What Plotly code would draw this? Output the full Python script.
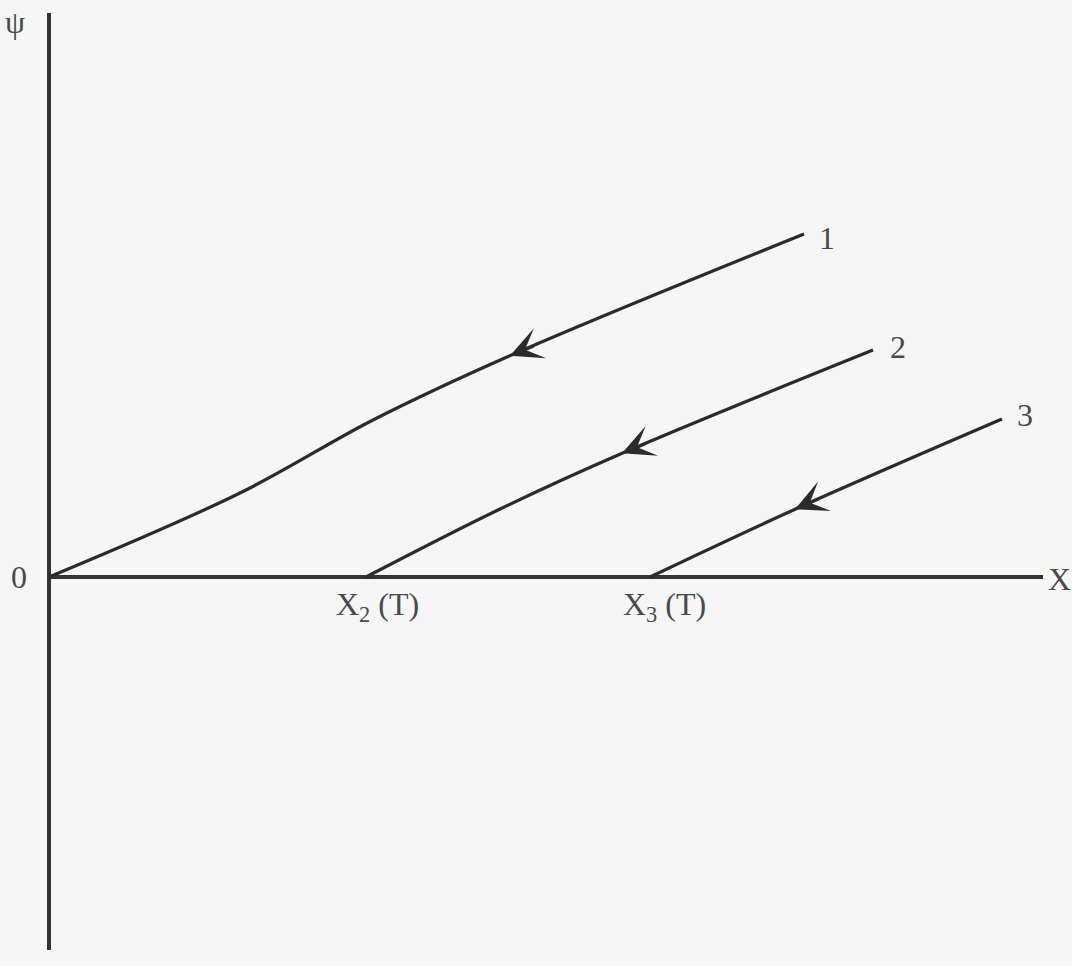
import numpy as np
import plotly.graph_objects as go

# Axis extents (X horizontal, psi vertical)
x_axis_x = [0.0, 9.94]
x_axis_y = [0.0, 0.0]
psi_axis_x = [0.0, 0.0]
psi_axis_y = [5.64, -3.73]

# Trajectories 1, 2, 3 in the (X, psi) plane
curve1_x = [0.00, 1.91, 3.24, 4.58, 7.55]
curve1_y = [0.00, 0.84, 1.57, 2.20, 3.43]
curve2_x = [3.17, 4.51, 5.76, 8.24]
curve2_y = [0.00, 0.68, 1.25, 2.27]
curve3_x = [6.01, 7.51, 9.53]
curve3_y = [0.00, 0.70, 1.58]

curve_names = ["1", "2", "3"]
# X position of the direction arrow tip on each curve
arrow_tip_x = [4.61, 5.73, 7.46]

# Axis-point labels
x2_label = "X<sub>2</sub> (T)"
x3_label = "X<sub>3</sub> (T)"

curves = [(curve1_x, curve1_y), (curve2_x, curve2_y), (curve3_x, curve3_y)]

ink = "#2b2b2b"
text_col = "#4a4a4a"
font_name = "Liberation Serif"
font_size = 32

fig = go.Figure()

# axes
fig.add_trace(go.Scatter(x=x_axis_x, y=x_axis_y, mode="lines",
                         line=dict(color="#333333", width=4), hoverinfo="skip"))
fig.add_trace(go.Scatter(x=psi_axis_x, y=psi_axis_y, mode="lines",
                         line=dict(color="#333333", width=4), hoverinfo="skip"))

for (cx, cy) in curves:
    fig.add_trace(go.Scatter(x=cx, y=cy, mode="lines",
                             line=dict(color=ink, width=3.2, shape="spline", smoothing=1.0),
                             hoverinfo="skip"))

annotations = []

# direction arrows pointing back toward the X axis
for (cx, cy), tx in zip(curves, arrow_tip_x):
    ty = float(np.interp(tx, cx, cy))
    tail_x = tx + 0.25
    tail_y = float(np.interp(tail_x, cx, cy))
    annotations.append(dict(x=tx, y=ty, ax=tail_x, ay=tail_y, xref="x", yref="y",
                            axref="x", ayref="y", showarrow=True, arrowhead=3,
                            arrowsize=1.8, arrowwidth=3, arrowcolor=ink,
                            standoff=0, text=""))

# curve numbers at the upper ends
label_offsets = [(0.23, -0.04), (0.25, 0.03), (0.23, 0.04)]
for name, (cx, cy), (dx, dy) in zip(curve_names, curves, label_offsets):
    annotations.append(dict(x=cx[-1] + dx, y=cy[-1] + dy, text=name, showarrow=False,
                            xref="x", yref="y",
                            font=dict(family=font_name, size=font_size, color=text_col)))

annotations += [
    dict(x=-0.30, y=0.0, text="0", showarrow=False, xref="x", yref="y",
         font=dict(family=font_name, size=font_size, color=text_col)),
    dict(x=-0.34, y=5.55, text="ψ", showarrow=False, xref="x", yref="y",
         font=dict(family=font_name, size=font_size, color=text_col)),
    dict(x=10.10, y=-0.02, text="X", showarrow=False, xref="x", yref="y",
         font=dict(family=font_name, size=font_size, color=text_col)),
    dict(x=curve2_x[0] + 0.11, y=-0.29, text=x2_label, showarrow=False, xref="x", yref="y",
         font=dict(family=font_name, size=font_size, color=text_col)),
    dict(x=curve3_x[0] + 0.14, y=-0.29, text=x3_label, showarrow=False, xref="x", yref="y",
         font=dict(family=font_name, size=font_size, color=text_col)),
]

fig.update_layout(
    width=1072, height=966,
    margin=dict(l=0, r=0, t=0, b=0),
    paper_bgcolor="#f6f6f6", plot_bgcolor="#f6f6f6",
    showlegend=False,
    xaxis=dict(range=[-0.49, 10.23], visible=False, fixedrange=True),
    yaxis=dict(range=[-3.89, 5.77], visible=False, fixedrange=True),
    annotations=annotations,
)

fig.write_html("out.html")
